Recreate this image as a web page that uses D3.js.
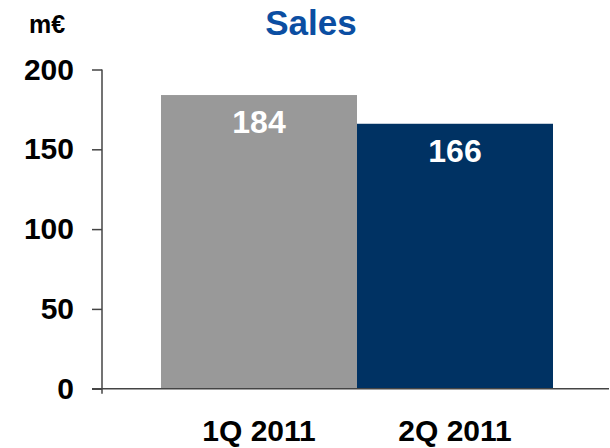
<!DOCTYPE html>
<html>
<head>
<meta charset="utf-8">
<script src="https://cdn.jsdelivr.net/npm/d3@7"></script>
<style>
  html, body { margin: 0; padding: 0; background: #fff; }
  svg { display: block; font-family: "Liberation Sans", Arial, sans-serif; }
</style>
</head>
<body>
<svg id="chart" width="610" height="448"></svg>
<script>
// Quarterly sales, in millions of euros
const categories = ["1Q 2011", "2Q 2011"];
const sales = [184, 166];
const barColors = ["#999999", "#003263"];
const yTicks = [0, 50, 100, 150, 200];

const svg = d3.select("#chart");

const x = d3.scaleBand().domain(categories).range([161, 553]).paddingInner(0).paddingOuter(0);
const y = d3.scaleLinear().domain([0, 200]).range([388.7, 69.5]);

// Title and unit
svg.append("text")
  .attr("x", 311).attr("y", 34.5)
  .attr("text-anchor", "middle")
  .style("font-size", "35px").style("font-weight", "bold")
  .attr("fill", "#0B4EA2")
  .text("Sales");

svg.append("text")
  .attr("x", 47).attr("y", 33)
  .attr("text-anchor", "middle")
  .style("font-size", "25px").style("font-weight", "bold")
  .attr("fill", "#000")
  .text("m€");

// Bars
svg.selectAll("rect.bar")
  .data(sales)
  .join("rect")
  .attr("class", "bar")
  .attr("x", (d, i) => x(categories[i]))
  .attr("width", x.bandwidth())
  .attr("y", d => y(d))
  .attr("height", d => y(0) - y(d))
  .attr("fill", (d, i) => barColors[i]);

// Value labels inside bars
svg.selectAll("text.val")
  .data(sales)
  .join("text")
  .attr("class", "val")
  .attr("x", (d, i) => x(categories[i]) + x.bandwidth() / 2)
  .attr("y", d => y(d) + 38)
  .attr("text-anchor", "middle")
  .style("font-size", "32px").style("font-weight", "bold")
  .attr("fill", "#fff")
  .text(d => d);

// Y axis
const yAxis = d3.axisLeft(y).tickValues(yTicks).tickSize(10).tickPadding(18);
const gy = svg.append("g").attr("transform", "translate(102,0)").call(yAxis);
gy.select(".domain").remove();
gy.selectAll(".tick line").attr("stroke", "#444").attr("stroke-width", 1.5);
gy.selectAll(".tick text")
  .attr("fill", "#000")
  .style("font-size", "30px").style("font-weight", "bold")
  .style("font-family", "'Liberation Sans', Arial, sans-serif");

// Vertical axis line, extending a bit below zero
svg.append("line")
  .attr("x1", 102).attr("x2", 102)
  .attr("y1", y(200)).attr("y2", y(0) + 5)
  .attr("stroke", "#444").attr("stroke-width", 1.5);

// Baseline
svg.append("line")
  .attr("x1", 92).attr("x2", 609)
  .attr("y1", y(0)).attr("y2", y(0))
  .attr("stroke", "#444").attr("stroke-width", 1.5);

// Category labels
svg.selectAll("text.cat")
  .data(categories)
  .join("text")
  .attr("class", "cat")
  .attr("x", d => x(d) + x.bandwidth() / 2)
  .attr("y", 441)
  .attr("text-anchor", "middle")
  .style("font-size", "30px").style("font-weight", "bold")
  .attr("fill", "#000")
  .text(d => d);
</script>
</body>
</html>
